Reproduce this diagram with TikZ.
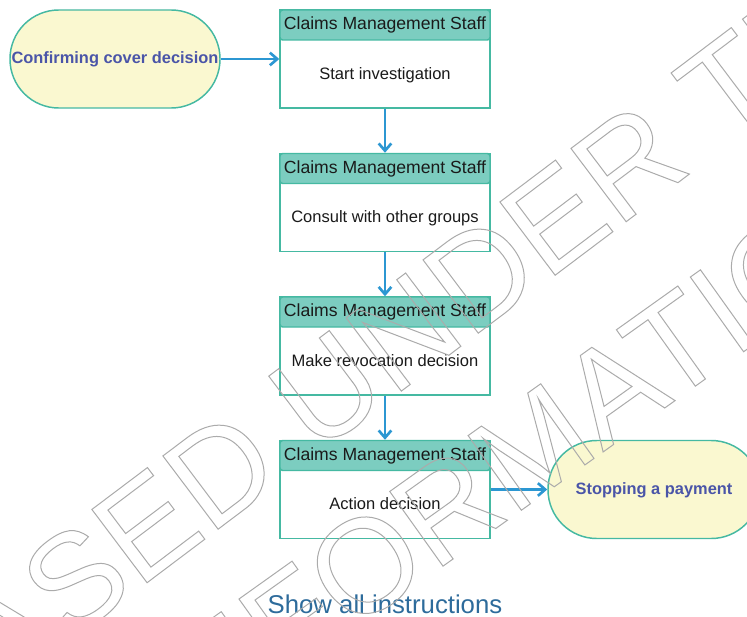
\documentclass[tikz,border=0pt]{standalone}
\usepackage{fontspec}
\setmainfont{Liberation Sans}
\usetikzlibrary{arrows.meta}

\definecolor{laneline}{HTML}{45B9A2}
\definecolor{lanefill}{HTML}{7CCDC0}
\definecolor{termfill}{HTML}{FAF8D0}
\definecolor{termtext}{HTML}{4A55A8}
\definecolor{flowblue}{HTML}{2C97D2}
\definecolor{linkblue}{HTML}{2D6B9B}
\definecolor{textblack}{HTML}{1A1A1A}
\definecolor{wmgray}{HTML}{ABABAB}

% outlined letters for the watermark
\newcommand\wmoutline[1]{\special{pdf:literal direct 1 Tr 0.75 w}#1\special{pdf:literal direct 0 Tr}}

\tikzset{
    terminal/.style={draw=laneline, line width=1.1pt, fill=termfill,
        rounded corners=36.6pt, minimum height=73.5pt, inner sep=0pt,
        text height=0.72em, text depth=0pt,
        text=termtext, font=\bfseries\fontsize{12.3pt}{14pt}\selectfont},
    taskbox/.style={draw=laneline, line width=1.1pt, fill=white,
        minimum width=157.5pt, minimum height=73.5pt, inner sep=0pt},
    lanehead/.style={draw=laneline, line width=1.1pt, fill=lanefill,
        rounded corners=2pt, minimum width=157.5pt, minimum height=22.5pt,
        inner sep=0pt, anchor=north, text=textblack,
        font=\fontsize{13.2pt}{15pt}\selectfont},
    tasktext/.style={inner sep=0pt, text=textblack,
        text height=0.72em, text depth=0pt,
        font=\fontsize{12.4pt}{14pt}\selectfont},
    flow/.style={draw=flowblue, line width=2pt,
        -{Straight Barb[length=5.5pt, width=9.5pt]}},
    watermark/.style={text=wmgray, rotate=37, inner sep=0pt,
        font=\fontsize{100pt}{112pt}\selectfont},
}

\begin{document}
\begin{tikzpicture}[x=0.75pt, y=-0.75pt]
    \useasboundingbox (0,0) rectangle (747,617);

    % Terminals
    \node[terminal, minimum width=157.5pt] (start) at (115,59) {Confirming cover decision};
    \node[terminal, minimum width=159pt] (stop) at (654,489.5) {Stopping a payment};

    % Lane tasks
    \node[taskbox] (t1) at (385,59) {};
    \node[lanehead] (h1) at (t1.north) {Claims Management Staff};
    \node[tasktext] (s1) at (385,74.5) {Start investigation};

    \node[taskbox] (t2) at (385,202.5) {};
    \node[lanehead] (h2) at (t2.north) {Claims Management Staff};
    \node[tasktext] (s2) at (385,218) {Consult with other groups};

    \node[taskbox] (t3) at (385,346) {};
    \node[lanehead] (h3) at (t3.north) {Claims Management Staff};
    \node[tasktext] (s3) at (385,361.5) {Make revocation decision};

    \node[taskbox] (t4) at (385,489.5) {};
    \node[lanehead] (h4) at (t4.north) {Claims Management Staff};
    \node[tasktext] (s4) at (385,505) {Action decision};

    % Flow
    \draw[flow] (start) -- (t1);
    \draw[flow] (t1) -- (h2);
    \draw[flow] (t2) -- (h3);
    \draw[flow] (t3) -- (h4);
    \draw[flow] (t4) -- (stop);

    % Link below
    \node[anchor=base, text=linkblue, font=\fontsize{19.3pt}{22pt}\selectfont]
        (showall) at (385,613) {Show all instructions};

    % Watermark
    \begin{scope}
        \clip (0,0) rectangle (747,617);
        \node[watermark] (wm1) at (300,410) {\wmoutline{RELEASED UNDER THE}};
        \node[watermark, rotate=-1.5] (wm2) at (524,452) {\wmoutline{INFORMATION}};
    \end{scope}
\end{tikzpicture}
\end{document}
